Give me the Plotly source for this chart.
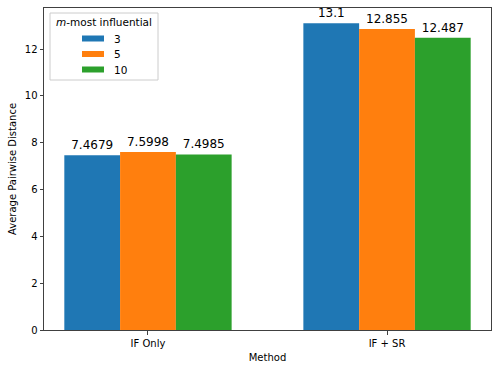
import plotly.graph_objects as go

# ── Data ─────────────────────────────────────────────────────────────
methods = ["IF Only", "IF + SR"]
m_values = ["3", "5", "10"]
dist_m3 = [7.4679, 13.1]
dist_m5 = [7.5998, 12.855]
dist_m10 = [7.4985, 12.487]
label_m3 = ["7.4679", "13.1"]
label_m5 = ["7.5998", "12.855"]
label_m10 = ["7.4985", "12.487"]

COLORS = ["#1f77b4", "#ff7f0e", "#2ca02c"]
FONT = "DejaVu Sans"

fig = go.Figure()
for name, vals, labels, color in zip(
    m_values, [dist_m3, dist_m5, dist_m10], [label_m3, label_m5, label_m10], COLORS
):
    fig.add_trace(
        go.Bar(
            x=methods,
            y=vals,
            name=name,
            marker=dict(color=color, line=dict(width=0)),
            text=labels,
            textposition="outside",
            textfont=dict(family=FONT, size=12, color="black"),
            constraintext="none",
            cliponaxis=False,
            showlegend=False,
            hoverinfo="skip",
        )
    )

axis_common = dict(
    showline=True,
    linecolor="#404040",
    linewidth=1,
    mirror=True,
    ticks="outside",
    ticklen=3.5,
    tickcolor="#404040",
    showgrid=False,
    zeroline=False,
    automargin=False,
    tickfont=dict(family=FONT, size=10, color="black"),
)

fig.update_layout(
    width=498,
    height=371,
    margin=dict(l=44, r=7, t=8, b=41),
    paper_bgcolor="white",
    plot_bgcolor="white",
    barmode="group",
    bargap=0.3,
    bargroupgap=0,
    font=dict(family=FONT, size=10, color="black"),
    xaxis=dict(
        range=[-0.435, 1.435],
        title=dict(text="Method", font=dict(family=FONT, size=10), standoff=6),
        **axis_common,
    ),
    yaxis=dict(
        range=[0, 13.755],
        tickvals=[0, 2, 4, 6, 8, 10, 12],
        title=dict(text="Average Pairwise Distance", font=dict(family=FONT, size=10), standoff=6),
        **axis_common,
    ),
)

# ── Legend drawn by hand (matplotlib-style wide patches) ─────────────
W, H = 498 - 44 - 7, 371 - 8 - 41


def px_x(p):
    return (p - 44) / W


def px_y(p):
    return 1 - (p - 8) / H


fig.add_shape(
    type="rect", xref="paper", yref="paper",
    x0=px_x(50), x1=px_x(158), y0=px_y(80), y1=px_y(13),
    line=dict(color="#cccccc", width=1), fillcolor="rgba(255,255,255,0.8)",
)
fig.add_annotation(
    xref="paper", yref="paper", x=px_x(104), y=px_y(22.5),
    text="<i>m</i>-most influential", showarrow=False,
    font=dict(family=FONT, size=10.5, color="black"), xanchor="center", yanchor="middle",
)
for i, (name, color) in enumerate(zip(m_values, COLORS)):
    yc = 38.5 + i * 15.5
    fig.add_shape(
        type="rect", xref="paper", yref="paper",
        x0=px_x(82), x1=px_x(104), y0=px_y(yc + 3), y1=px_y(yc - 3),
        line=dict(width=0), fillcolor=color,
    )
    fig.add_annotation(
        xref="paper", yref="paper", x=px_x(112), y=px_y(yc),
        text=name, showarrow=False,
        font=dict(family=FONT, size=10.5, color="black"), xanchor="left", yanchor="middle",
    )

fig.write_html(
    "out.html",
    config={"displayModeBar": False, "staticPlot": True},
    post_script="document.body.style.margin='0';document.body.style.overflow='hidden';",
)
